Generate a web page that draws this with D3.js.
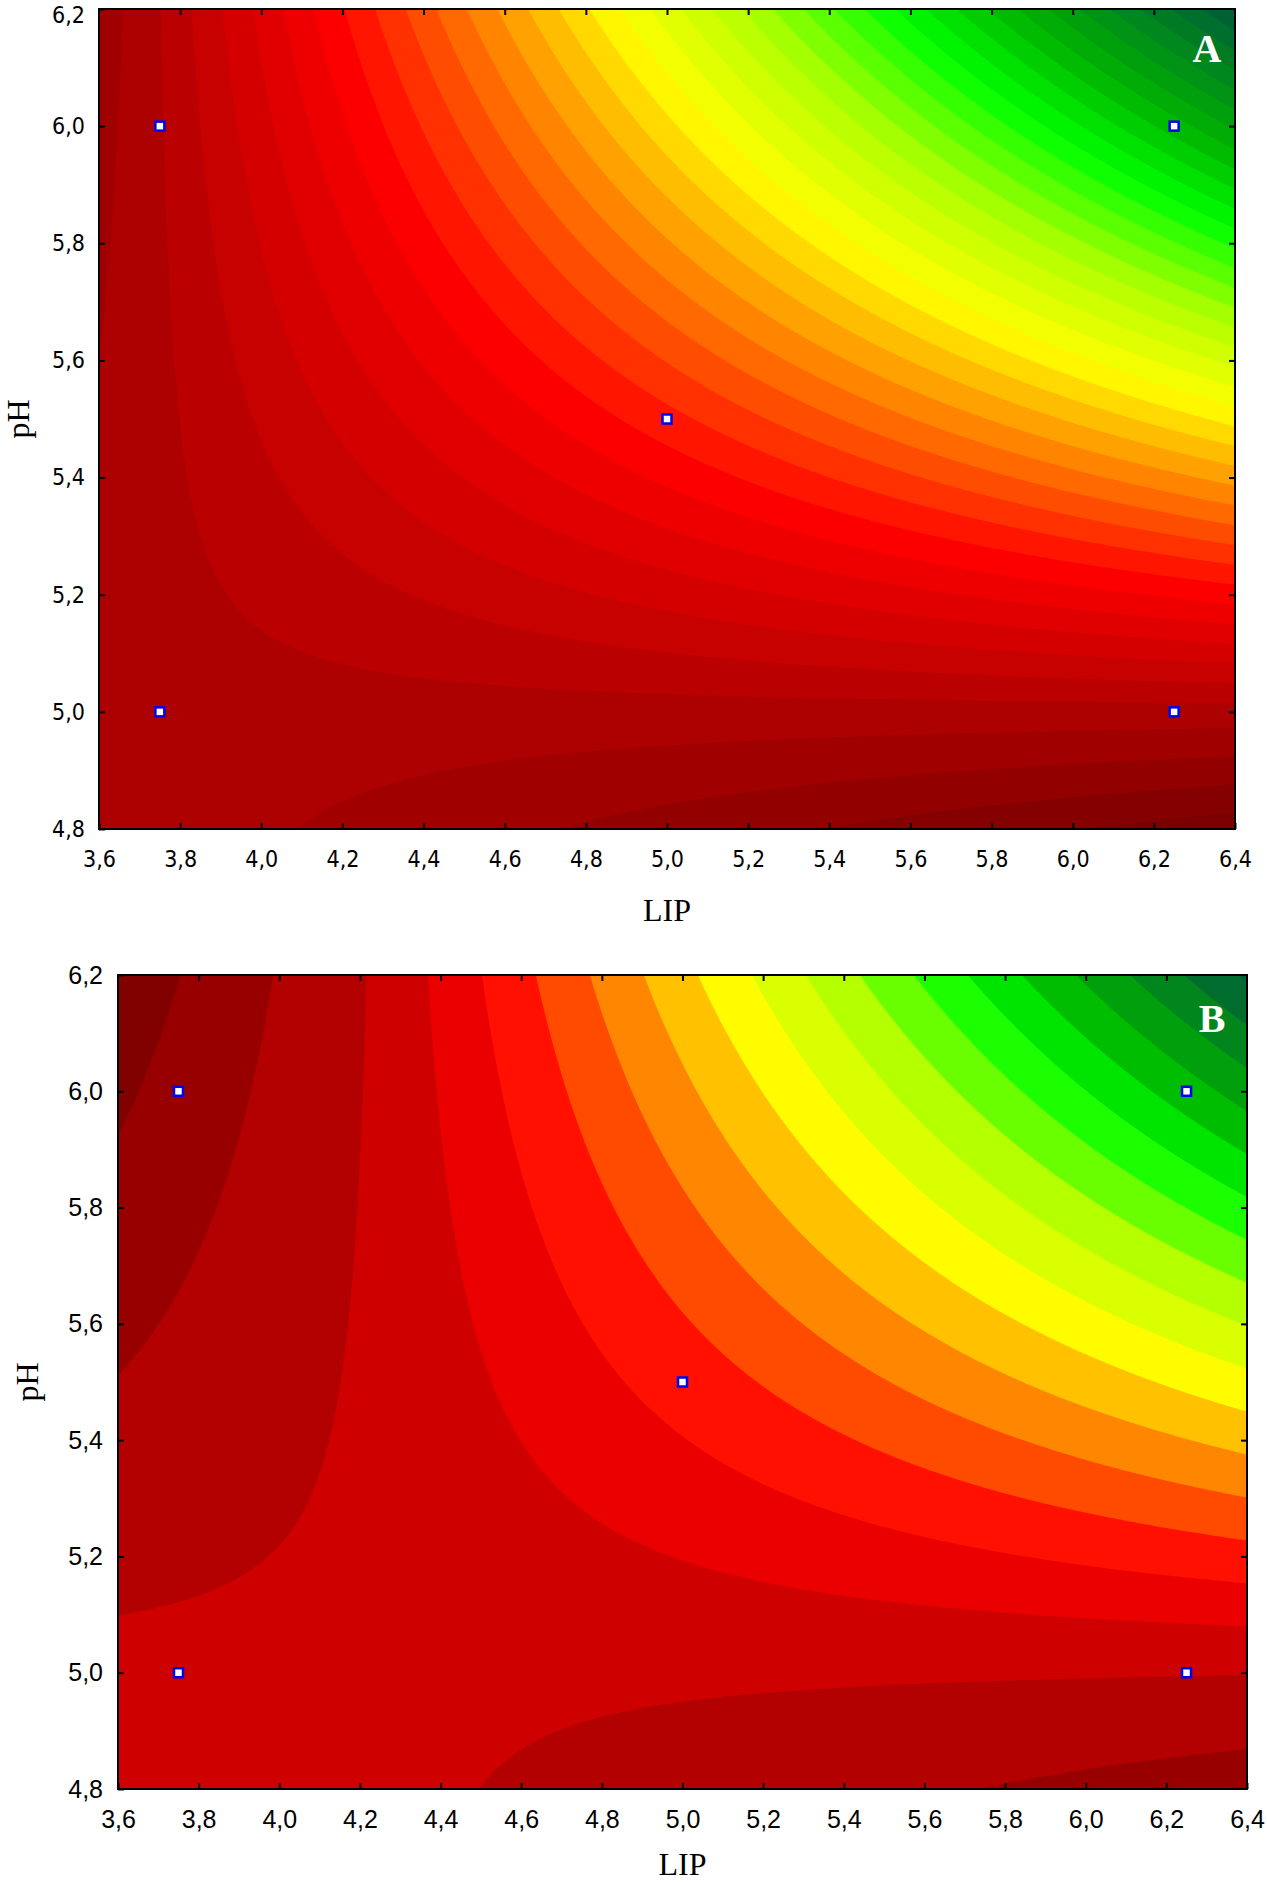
<!DOCTYPE html>
<html>
<head>
<meta charset="utf-8">
<script src="https://cdn.jsdelivr.net/npm/d3@7"></script>
<style>
  body { margin: 0; background: #fff; }
</style>
</head>
<body>
<script>
// axes
const lipTicks = [3.6, 3.8, 4.0, 4.2, 4.4, 4.6, 4.8, 5.0, 5.2, 5.4, 5.6, 5.8, 6.0, 6.2, 6.4];
const phTicks = [4.8, 5.0, 5.2, 5.4, 5.6, 5.8, 6.0, 6.2];

// experimental design points (LIP, pH)
const designLIP = [3.75, 6.25, 5.0, 3.75, 6.25];
const designPH = [6.0, 6.0, 5.5, 5.0, 5.0];

// fitted response surfaces:
// z = s * (LIP - LIP0) * (pH - pH0), saddle [LIP0, pH0],
// slopes s = [upper-right quadrant, elsewhere]
const saddleA = [3.72, 5.0];
const slopesA = [1, 0.7];
const saddleB = [4.26, 5.02];
const slopesB = [1, 0.58];

// contour levels: spacing and one level that is drawn
const levelStepA = 0.0905, levelAnchorA = 0.039;
const levelStepB = 0.158, levelAnchorB = -0.03;

// colour ramp of the contour bands (low -> high, relative position)
const rampStops = [0, 0.26, 0.49, 0.6, 0.72, 0.82, 1];
const rampColors = ["#780000", "#ff0000", "#ffff00", "#b0ff00", "#00ff00", "#00b400", "#005c38"];

const width = 1267, height = 1884;

const svg = d3.select("body").append("svg")
    .attr("width", width)
    .attr("height", height)
    .style("display", "block");

const ramp = d3.scaleLinear()
    .domain(rampStops)
    .range(rampColors)
    .interpolate(d3.interpolateRgb)
    .clamp(true);

const fmt = d3.formatLocale({decimal: ",", thousands: ".", grouping: [3], currency: ["", ""]}).format(".1f");

const panels = [
  {
    id: "A", box: [99, 9, 1235, 829], saddle: saddleA, slopes: slopesA,
    step: levelStepA, anchor: levelAnchorA,
    tickFont: "'DejaVu Sans Condensed', 'DejaVu Sans', sans-serif", tickSize: 23,
    xPad: 22, yPad: 14, xLabelY: 921, yLabelX: 29, letter: [1207, 62]
  },
  {
    id: "B", box: [118, 975, 1247, 1789], saddle: saddleB, slopes: slopesB,
    step: levelStepB, anchor: levelAnchorB,
    tickFont: "'Liberation Sans', Arial, sans-serif", tickSize: 25,
    xPad: 21, yPad: 15, xLabelY: 1875, yLabelX: 38, letter: [1212, 1032]
  }
];

panels.forEach(drawPanel);

function drawPanel(p) {
  const [left, top, right, bottom] = p.box;
  const x = d3.scaleLinear().domain([lipTicks[0], lipTicks[lipTicks.length - 1]]).range([left, right]);
  const y = d3.scaleLinear().domain([phTicks[0], phTicks[phTicks.length - 1]]).range([bottom, top]);
  const [x0, y0] = p.saddle;
  const [sUp, sElse] = p.slopes;
  const surface = (lip, ph) => {
    const u = lip - x0, v = ph - y0;
    return (u > 0 && v > 0 ? sUp : sElse) * u * v;
  };

  const g = svg.append("g");
  const clipId = "clip" + p.id;
  g.append("clipPath").attr("id", clipId)
    .append("rect")
      .attr("x", left).attr("y", top)
      .attr("width", right - left).attr("height", bottom - top);

  // sample the surface on a grid
  const nx = Math.round((right - left) / 3), ny = Math.round((bottom - top) / 3);
  const [xa, xb] = x.domain(), [ya, yb] = y.domain();
  const values = new Float64Array(nx * ny);
  for (let j = 0; j < ny; ++j) {
    for (let i = 0; i < nx; ++i) {
      const lip = xa + (i + 0.5) / nx * (xb - xa);
      const ph = yb - (j + 0.5) / ny * (yb - ya);
      values[j * nx + i] = surface(lip, ph);
    }
  }
  const [zmin, zmax] = d3.extent(values);
  const kLo = Math.ceil((zmin - p.anchor) / p.step), kHi = Math.floor((zmax - p.anchor) / p.step);
  const thresholds = d3.range(kLo, kHi + 1).map(k => p.anchor + k * p.step);
  const bands = d3.contours().size([nx, ny]).thresholds(thresholds)(values);

  // colour of the band [lo, hi] from its middle value
  const rel = d3.scaleLinear().domain([zmin, zmax]);
  const bandColor = (lo, hi) => ramp(rel((Math.max(lo, zmin) + Math.min(hi, zmax)) / 2));

  const proj = d3.geoTransform({
    point(px, py) {
      this.stream.point(x(xa + px / nx * (xb - xa)), y(yb - py / ny * (yb - ya)));
    }
  });
  const path = d3.geoPath(proj);

  const fill = g.append("g").attr("clip-path", `url(#${clipId})`);
  fill.append("rect")
      .attr("x", left).attr("y", top)
      .attr("width", right - left).attr("height", bottom - top)
      .attr("fill", bandColor(zmin, thresholds[0]));
  fill.selectAll("path")
    .data(bands)
    .join("path")
      .attr("d", path)
      .attr("fill", (d, k) => bandColor(thresholds[k], k + 1 < thresholds.length ? thresholds[k + 1] : zmax));

  // design points
  g.selectAll("rect.pt")
    .data(designLIP.map((d, i) => [d, designPH[i]]))
    .join("rect")
      .attr("class", "pt")
      .attr("x", d => x(d[0]) - 4.5)
      .attr("y", d => y(d[1]) - 4.5)
      .attr("width", 9)
      .attr("height", 9)
      .attr("fill", "#fff")
      .attr("stroke", "#0000f0")
      .attr("stroke-width", 2.5);

  // frame
  g.append("rect")
      .attr("x", left).attr("y", top)
      .attr("width", right - left).attr("height", bottom - top)
      .attr("fill", "none")
      .attr("stroke", "#000")
      .attr("stroke-width", 2);

  // axes with inward ticks on all sides
  const styleAxis = sel => {
    sel.select(".domain").remove();
    sel.selectAll(".tick line").attr("stroke", "#000").attr("stroke-width", 2);
    sel.selectAll("text")
        .attr("fill", "#000")
        .style("font-family", p.tickFont)
        .style("font-size", p.tickSize + "px");
  };

  g.append("g")
      .attr("transform", `translate(0,${bottom})`)
      .call(d3.axisBottom(x).tickValues(lipTicks).tickFormat(fmt)
        .tickSizeInner(-6).tickSizeOuter(0).tickPadding(p.xPad))
      .call(styleAxis);
  g.append("g")
      .attr("transform", `translate(0,${top})`)
      .call(d3.axisTop(x).tickValues(lipTicks.slice(1, -1)).tickFormat("")
        .tickSizeInner(-6).tickSizeOuter(0))
      .call(styleAxis);
  g.append("g")
      .attr("transform", `translate(${left},0)`)
      .call(d3.axisLeft(y).tickValues(phTicks).tickFormat(fmt)
        .tickSizeInner(-6).tickSizeOuter(0).tickPadding(p.yPad))
      .call(styleAxis)
      // keep the top label inside the page
      .call(sel => sel.selectAll(".tick").filter(d => y(d) < 20).select("text").attr("dy", "0.6em"));
  g.append("g")
      .attr("transform", `translate(${right},0)`)
      .call(d3.axisRight(y).tickValues(phTicks.slice(1, -1)).tickFormat("")
        .tickSizeInner(-6).tickSizeOuter(0))
      .call(styleAxis);

  // axis titles
  g.append("text")
      .attr("x", (left + right) / 2)
      .attr("y", p.xLabelY)
      .attr("text-anchor", "middle")
      .style("font", "32px 'Liberation Serif', 'Times New Roman', serif")
      .text("LIP");
  g.append("text")
      .attr("transform", `translate(${p.yLabelX},${(top + bottom) / 2}) rotate(-90)`)
      .attr("text-anchor", "middle")
      .style("font", "32px 'Liberation Serif', 'Times New Roman', serif")
      .text("pH");

  // panel letter
  g.append("text")
      .attr("x", p.letter[0])
      .attr("y", p.letter[1])
      .attr("text-anchor", "middle")
      .attr("fill", "#fff")
      .style("font", "bold 40px 'Liberation Serif', 'Times New Roman', serif")
      .text(p.id);
}
</script>
</body>
</html>
